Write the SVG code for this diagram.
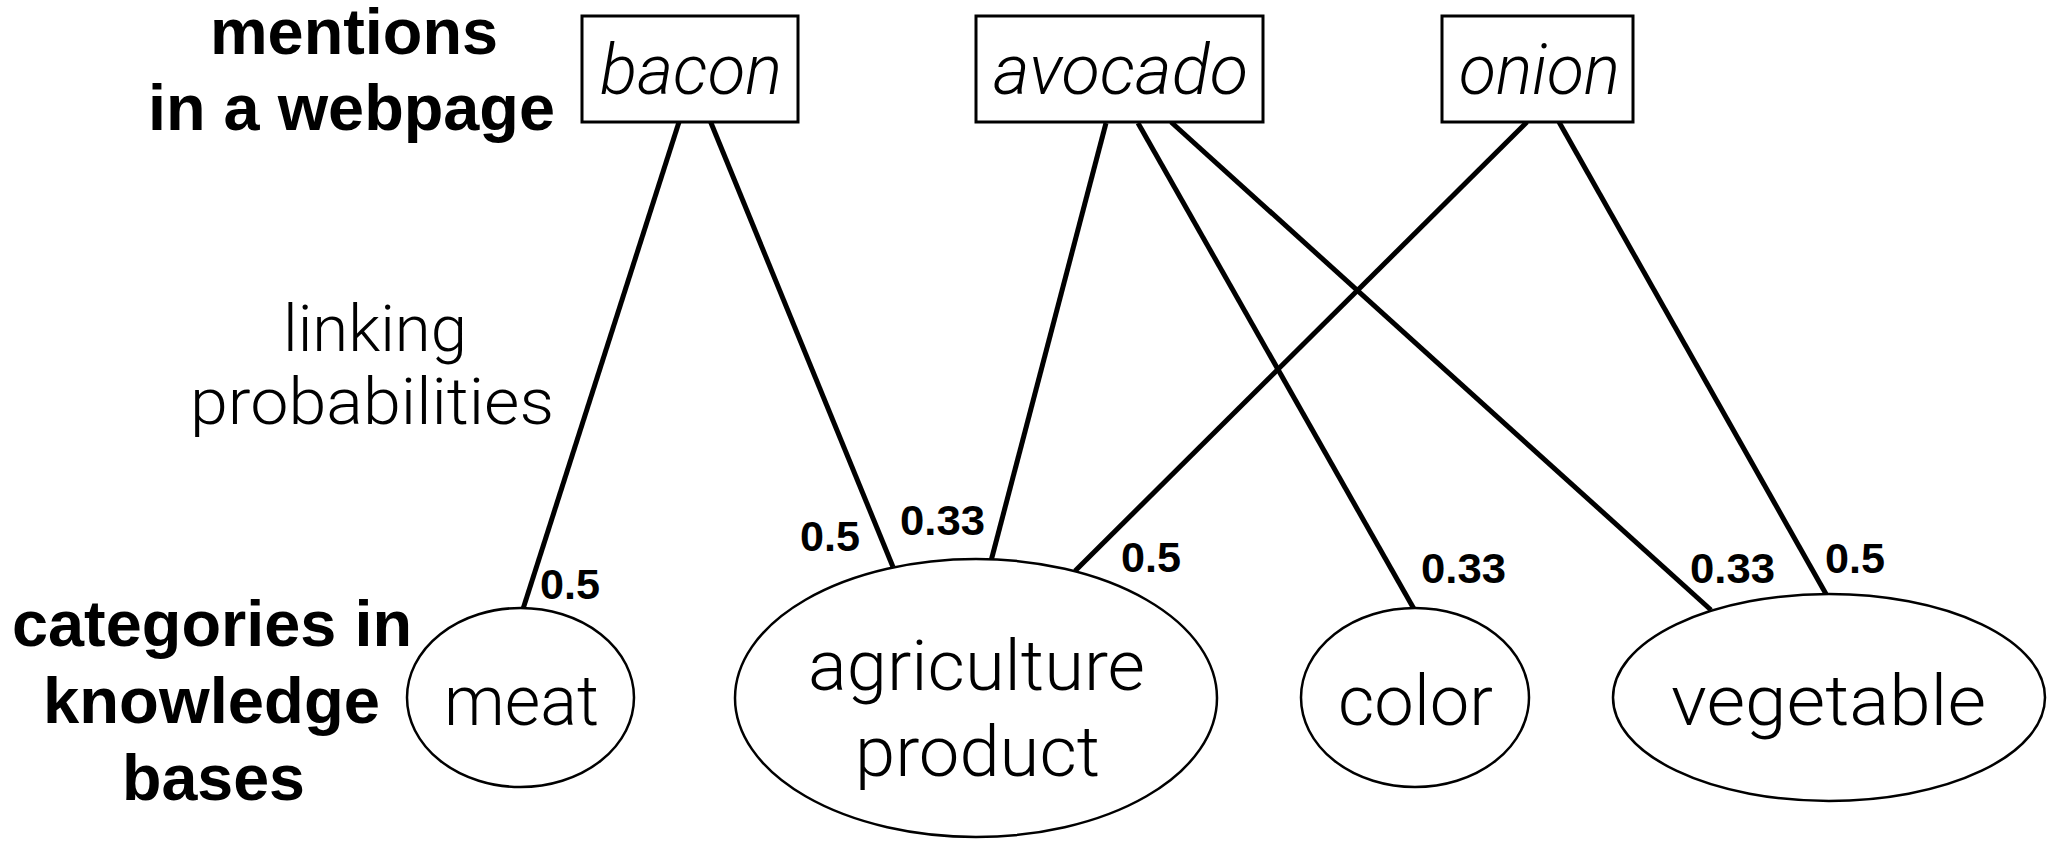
<svg xmlns="http://www.w3.org/2000/svg" width="2054" height="848" viewBox="0 0 2054 848">
<style>
.bg{fill:#fff}
.box{fill:#fff;stroke:#000;stroke-width:3}
.node{fill:#fff;stroke:#000;stroke-width:2.5}
.edge{stroke:#000;stroke-width:5;fill:none;stroke-linecap:butt}
.ment{font-family:Roboto,"Liberation Sans",sans-serif;font-weight:300;font-style:italic;font-size:70px;fill:#000}
.lbl{font-family:Roboto,"Liberation Sans",sans-serif;font-weight:300;font-size:70px;fill:#000}
.note{font-family:Roboto,"Liberation Sans",sans-serif;font-weight:300;font-size:65px;fill:#000}
.head{font-family:"Liberation Sans",Arial,sans-serif;font-weight:bold;font-size:64px;fill:#000}
.prob{font-family:"Liberation Sans",Arial,sans-serif;font-weight:bold;font-size:43px;fill:#000}
</style>
<rect class="bg" x="0" y="0" width="2054" height="848"/>
<g id="headings">
<text class="head" x="210" y="54" textLength="288" lengthAdjust="spacingAndGlyphs">mentions</text>
<text class="head" x="148" y="130" textLength="407" lengthAdjust="spacingAndGlyphs">in a webpage</text>
<text class="head" x="12" y="646" textLength="400" lengthAdjust="spacingAndGlyphs">categories in</text>
<text class="head" x="43" y="723" textLength="337" lengthAdjust="spacingAndGlyphs">knowledge</text>
<text class="head" x="122" y="800" textLength="183" lengthAdjust="spacingAndGlyphs">bases</text>
<text class="note" x="283" y="351" textLength="184" lengthAdjust="spacingAndGlyphs">linking</text>
<text class="note" x="190" y="424" textLength="364" lengthAdjust="spacingAndGlyphs">probabilities</text>
</g>
<g id="connectors">
<line class="edge" x1="679" y1="122" x2="523" y2="609"/>
<line class="edge" x1="709" y1="118" x2="893" y2="567"/>
<line class="edge" x1="1106" y1="123" x2="991" y2="561"/>
<line class="edge" x1="1138" y1="123" x2="1414" y2="609"/>
<line class="edge" x1="1171" y1="122" x2="1711" y2="610"/>
<line class="edge" x1="1527" y1="122" x2="1075" y2="571"/>
<line class="edge" x1="1559" y1="122" x2="1826" y2="594"/>
</g>
<g id="edge-labels">
<text class="prob" x="540" y="599" textLength="60" lengthAdjust="spacingAndGlyphs">0.5</text>
<text class="prob" x="800" y="551" textLength="60" lengthAdjust="spacingAndGlyphs">0.5</text>
<text class="prob" x="900" y="535" textLength="85" lengthAdjust="spacingAndGlyphs">0.33</text>
<text class="prob" x="1121" y="572" textLength="60" lengthAdjust="spacingAndGlyphs">0.5</text>
<text class="prob" x="1421" y="583" textLength="85" lengthAdjust="spacingAndGlyphs">0.33</text>
<text class="prob" x="1690" y="583" textLength="85" lengthAdjust="spacingAndGlyphs">0.33</text>
<text class="prob" x="1825" y="573" textLength="60" lengthAdjust="spacingAndGlyphs">0.5</text>
</g>
<g id="mention-bacon">
<rect class="box" x="582" y="16" width="216" height="106"/>
<text class="ment" x="600" y="94" textLength="182" lengthAdjust="spacingAndGlyphs">bacon</text>
</g>
<g id="mention-avocado">
<rect class="box" x="976" y="16" width="287" height="106"/>
<text class="ment" x="993" y="94" textLength="255" lengthAdjust="spacingAndGlyphs">avocado</text>
</g>
<g id="mention-onion">
<rect class="box" x="1442" y="16" width="191" height="106"/>
<text class="ment" x="1459" y="94" textLength="161" lengthAdjust="spacingAndGlyphs">onion</text>
</g>
<g id="category-meat">
<ellipse class="node" cx="520.5" cy="697.5" rx="113.5" ry="89.5"/>
<text class="lbl" x="444" y="725" textLength="155" lengthAdjust="spacingAndGlyphs">meat</text>
</g>
<g id="category-agriculture-product">
<ellipse class="node" cx="976" cy="698" rx="241" ry="139"/>
<text class="lbl" x="808" y="690" textLength="337" lengthAdjust="spacingAndGlyphs">agriculture</text>
<text class="lbl" x="855" y="776" textLength="245" lengthAdjust="spacingAndGlyphs">product</text>
</g>
<g id="category-color">
<ellipse class="node" cx="1415" cy="697.5" rx="114" ry="89.5"/>
<text class="lbl" x="1338" y="725" textLength="155" lengthAdjust="spacingAndGlyphs">color</text>
</g>
<g id="category-vegetable">
<ellipse class="node" cx="1829" cy="697.5" rx="216" ry="103.5"/>
<text class="lbl" x="1671" y="725" textLength="315" lengthAdjust="spacingAndGlyphs">vegetable</text>
</g>
</svg>
